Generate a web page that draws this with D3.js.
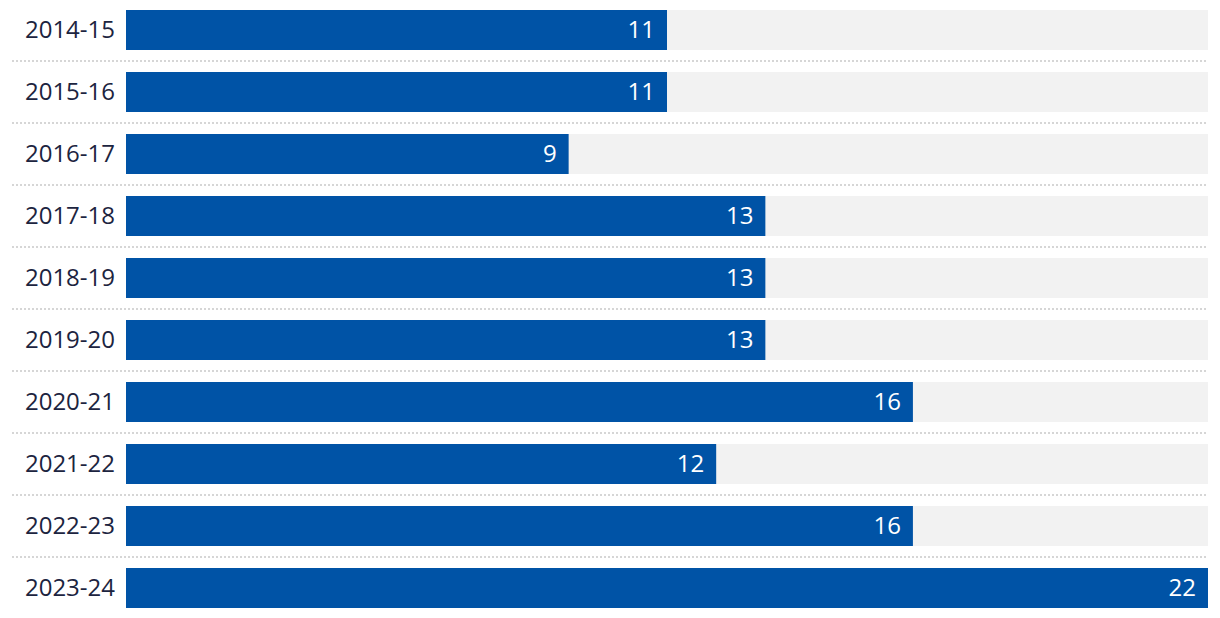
<!DOCTYPE html>
<html>
<head>
<meta charset="utf-8">
<script src="https://cdn.jsdelivr.net/npm/d3@7"></script>
<style>
html,body{margin:0;padding:0;background:#fff;}
svg{display:block;}
</style>
</head>
<body>
<svg id="chart" width="1220" height="618"></svg>
<script>
const categories = ["2014-15","2015-16","2016-17","2017-18","2018-19","2019-20","2020-21","2021-22","2022-23","2023-24"];
const values = [11,11,9,13,13,13,16,12,16,22];
const maxValue = 22;

(function () {
const mLeft = 126, mRight = 1208, mTop = 10;
const rowStep = 62, barH = 40;

const svg = d3.select("#chart");
const x = d3.scaleLinear().domain([0, maxValue]).range([mLeft, mRight]);
const y = d3.scaleBand().domain(categories).range([mTop - 11, mTop - 11 + rowStep * categories.length]).paddingInner(0).paddingOuter(0);
const barY = d => y(d) + (rowStep - barH) / 2;

const font = "'Open Sans', 'Noto Sans', sans-serif";

// separators
svg.append("g").selectAll("line").data(categories.slice(0, -1)).join("line")
  .attr("x1", 12).attr("x2", mRight)
  .attr("y1", d => y(d) + rowStep).attr("y2", d => y(d) + rowStep)
  .attr("stroke", "#d6d6d6").attr("stroke-width", 2).attr("stroke-dasharray", "2,2");

// tracks
svg.append("g").selectAll("rect").data(categories).join("rect")
  .attr("x", x(0)).attr("width", x(maxValue) - x(0))
  .attr("y", d => barY(d)).attr("height", barH)
  .attr("fill", "#f2f2f2");

// bars
svg.append("g").selectAll("rect").data(values).join("rect")
  .attr("x", x(0)).attr("width", d => x(d) - x(0))
  .attr("y", (d, i) => barY(categories[i])).attr("height", barH)
  .attr("fill", "#0053a6");

// value labels
svg.append("g").selectAll("text").data(values).join("text")
  .attr("x", d => x(d) - 12)
  .attr("y", (d, i) => barY(categories[i]) + barH / 2)
  .attr("dy", "0.33em")
  .attr("text-anchor", "end")
  .attr("fill", "#ffffff")
  .style("font-family", font).style("font-size", "24px")
  .text(d => d);

// category labels
svg.append("g").selectAll("text").data(categories).join("text")
  .attr("x", 115)
  .attr("y", d => barY(d) + barH / 2)
  .attr("dy", "0.33em")
  .attr("text-anchor", "end")
  .attr("fill", "#1c2440")
  .style("font-family", font).style("font-size", "24px")
  .text(d => d);
})();
</script>
</body>
</html>
